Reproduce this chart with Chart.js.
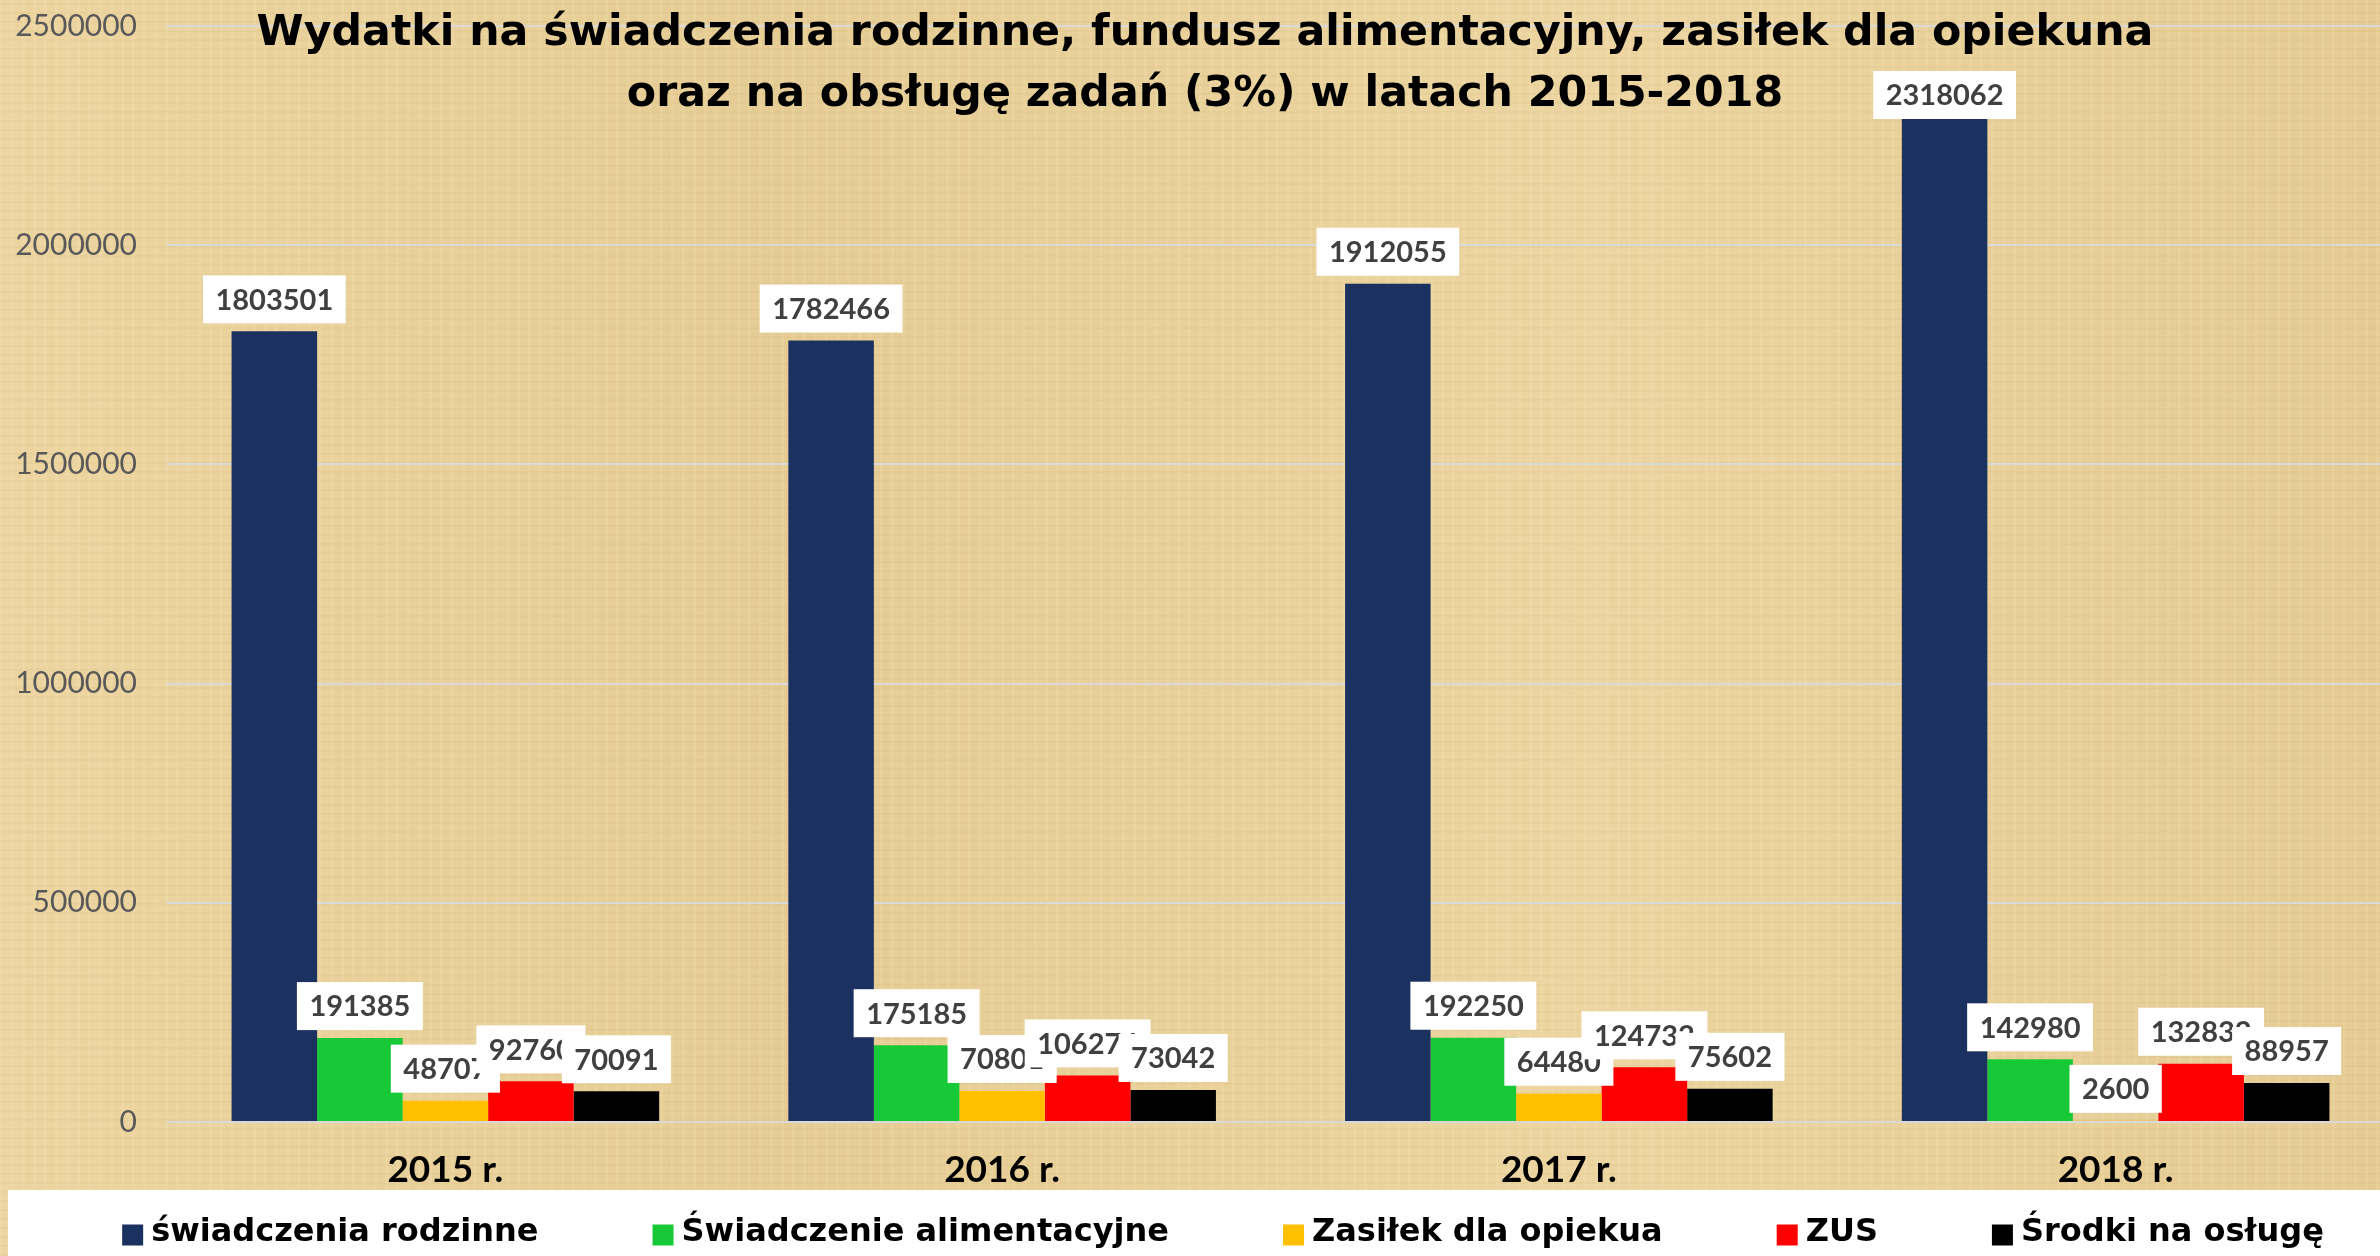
<!DOCTYPE html>
<html><head><meta charset="utf-8">
<script src="https://cdn.jsdelivr.net/npm/chart.js@4.4.1/dist/chart.umd.min.js"></script>
<style>
html,body{margin:0;padding:0;overflow:hidden;width:2380px;height:1256px;
background-color:#E8D09A;
background-image:
 repeating-linear-gradient(90deg, rgba(255,240,200,0.12) 0px, rgba(255,240,200,0.12) 3px, rgba(0,0,0,0) 3px, rgba(0,0,0,0) 11px),
 repeating-linear-gradient(0deg, rgba(160,120,50,0.05) 0px, rgba(160,120,50,0.05) 2px, rgba(0,0,0,0) 2px, rgba(0,0,0,0) 9px),
 linear-gradient(90deg, rgba(255,235,190,0.18), rgba(200,160,80,0.08), rgba(255,235,190,0.18), rgba(200,160,80,0.10));}
#wrap{position:absolute;left:0;top:0;width:2400px;height:1256px}
</style></head><body>
<div id="wrap"><canvas id="c" width="2400" height="1256"></canvas></div>
<script>
// ---- data ----
const categories = ['2015 r.', '2016 r.', '2017 r.', '2018 r.'];
const seriesNames = ['świadczenia rodzinne', 'Świadczenie alimentacyjne', 'Zasiłek dla opiekua', 'ZUS', 'Środki na osługę'];
const swiadczeniaRodzinne = [1803501, 1782466, 1912055, 2318062];
const swiadczenieAlimentacyjne = [191385, 175185, 192250, 142980];
const zasilekDlaOpiekuna = [48707, 70801, 64480, 2600];
const zus = [92760, 106274, 124732, 132832];
const srodkiNaObsluge = [70091, 73042, 75602, 88957];
const yTickValues = [0, 500000, 1000000, 1500000, 2000000, 2500000];
const titleLines = ['Wydatki na świadczenia rodzinne, fundusz alimentacyjny, zasiłek dla opiekuna',
                    'oraz na obsługę zadań (3%) w latach 2015-2018'];
const seriesColors = ['#1B3160', '#17C937', '#FFC000', '#FF0000', '#000000'];

const FONT = 'Lato, "Open Sans", sans-serif';
const WIDE = '"DejaVu Sans", Lato, sans-serif';

const barLabels = {
  id: 'barLabels',
  afterDatasetsDraw(chart) {
    const ctx = chart.ctx;
    ctx.save();
    ctx.font = 'bold 29px ' + FONT;
    ctx.textAlign = 'center';
    ctx.textBaseline = 'middle';
    chart.data.datasets.forEach((ds, i) => {
      const meta = chart.getDatasetMeta(i);
      meta.data.forEach((bar, j) => {
        const txt = String(ds.data[j]);
        const w = ctx.measureText(txt).width + 25;
        const h = 48;
        let top = bar.y - 8 - h;
        top = Math.max(top, chart.chartArea.top + 45);
        ctx.fillStyle = '#FFFFFF';
        ctx.fillRect(bar.x - w / 2, top, w, h);
        ctx.fillStyle = '#404040';
        ctx.fillText(txt, bar.x, top + h / 2 + 1);
      });
    });
    ctx.restore();
  }
};

const titlePlugin = {
  id: 'titleOverlay',
  afterDraw(chart) {
    const ctx = chart.ctx;
    ctx.save();
    ctx.font = 'bold 42.7px ' + WIDE;
    ctx.fillStyle = '#000000';
    ctx.textAlign = 'center';
    ctx.textBaseline = 'alphabetic';
    ctx.fillText(titleLines[0], 1205, 45);
    ctx.fillText(titleLines[1], 1205, 106);
    ctx.restore();
  }
};

const legendPlugin = {
  id: 'legendBand',
  afterDraw(chart) {
    const ctx = chart.ctx;
    ctx.save();
    const bandTop = chart.scales.x.bottom;
    ctx.fillStyle = '#FFFFFF';
    ctx.fillRect(8, bandTop, chart.width - 8, chart.height - bandTop);
    ctx.font = 'bold 32px ' + WIDE;
    ctx.textBaseline = 'middle';
    ctx.textAlign = 'left';
    const box = 21, gapText = 8, gapItem = 114;
    const items = chart.data.datasets.map(d => ({ text: d.label, color: d.backgroundColor, w: ctx.measureText(d.label).width }));
    let total = 0;
    items.forEach((it, k) => { total += box + gapText + it.w + (k ? gapItem : 0); });
    let x = 1223 - total / 2;
    const cy = bandTop + 43;
    items.forEach(it => {
      ctx.fillStyle = it.color;
      ctx.fillRect(x, cy - box / 2 + 2, box, box);
      ctx.fillStyle = '#000000';
      ctx.fillText(it.text, x + box + gapText, cy);
      x += box + gapText + it.w + gapItem;
    });
    ctx.restore();
  }
};

function make() {
  const seriesData = [swiadczeniaRodzinne, swiadczenieAlimentacyjne, zasilekDlaOpiekuna, zus, srodkiNaObsluge];
  new Chart(document.getElementById('c'), {
    type: 'bar',
    data: {
      labels: categories,
      datasets: seriesNames.map((n, i) => ({
        label: n,
        data: seriesData[i],
        backgroundColor: seriesColors[i],
        borderWidth: 0,
        categoryPercentage: 0.768,
        barPercentage: 1.0
      }))
    },
    options: {
      responsive: false,
      animation: false,
      devicePixelRatio: 1,
      layout: { padding: { left: 13, right: 6, top: 0, bottom: 66 } },
      plugins: { legend: { display: false }, title: { display: false }, tooltip: { enabled: false } },
      scales: {
        x: {
          grid: { display: false },
          border: { display: false },
          afterFit(scale) { scale.height = 68; },
          ticks: { color: '#000000', font: { family: FONT, size: 37, weight: 'bold' }, padding: 18 }
        },
        y: {
          min: 0, max: 2500000,
          afterBuildTicks(scale) { scale.ticks = yTickValues.map(v => ({ value: v })); },
          afterFit(scale) { scale.width = 154; scale.paddingTop = 26; scale.paddingBottom = 10; },
          grid: { color: '#D9D9D9', lineWidth: 2, drawTicks: false },
          border: { display: false },
          ticks: { color: '#595959', font: { family: FONT, size: 30 }, padding: 30, callback: v => String(v) }
        }
      }
    },
    plugins: [barLabels, titlePlugin, legendPlugin]
  });
}

if (document.fonts && document.fonts.load) {
  Promise.all([
    document.fonts.load('bold 47px Lato'),
    document.fonts.load('30px Lato'),
    document.fonts.load('bold 42px "DejaVu Sans"')
  ]).then(make, make);
} else { make(); }
</script>
</body></html>
